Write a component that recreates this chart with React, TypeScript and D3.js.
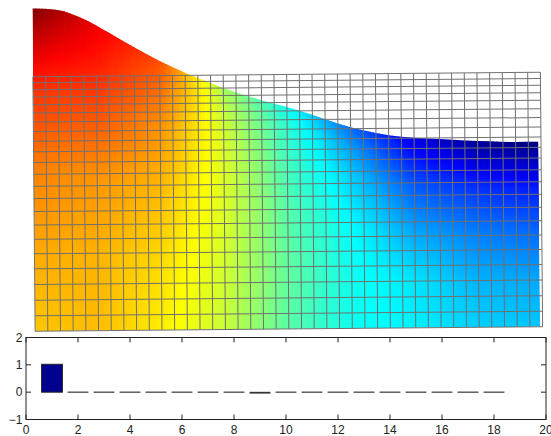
import React from 'react';
import * as d3 from 'd3';

// mesh: 40 columns; row lines as elevation (0 = front edge, 10 = back edge)
const meshCols = 40;
const rowLines = [10, 9.76, 9.49, 9.2, 8.9, 8.57, 8.22, 7.85, 7.46, 7.05, 6.63, 6.17, 5.7, 5.21, 4.7, 4.17, 3.61, 3.04, 2.45, 1.84, 1.22, 0.61, 0];

// upper edge of the shaded surface, sampled every 2 columns
const profileU = [0, 2, 4, 6, 8, 10, 12, 14, 16, 18, 20, 22, 24, 26, 28, 30, 32, 34, 36, 38, 40];
const profileElev = [12.69, 12.61, 12.26, 11.71, 11.12, 10.57, 10.1, 9.69, 9.31, 9.0, 8.72, 8.41, 8.06, 7.78, 7.58, 7.47, 7.41, 7.35, 7.31, 7.27, 7.27];

// colour index (0..1 of the jet map), per column, from the upper edge (t=0) down to the front (t=1)
const shadeU = [0, 5, 10, 15, 20, 25, 30, 35, 40];
const shadeT = [0, 0.1, 0.25, 0.5, 0.75, 1];
const shadeCols = [
  [1.0, 0.93, 0.83, 0.75, 0.71, 0.68],
  [0.89, 0.86, 0.81, 0.73, 0.7, 0.69],
  [0.8, 0.77, 0.73, 0.69, 0.66, 0.64],
  [0.54, 0.57, 0.59, 0.59, 0.58, 0.57],
  [0.39, 0.42, 0.44, 0.46, 0.47, 0.46],
  [0.23, 0.28, 0.33, 0.375, 0.39, 0.39],
  [0.1, 0.14, 0.21, 0.29, 0.35, 0.36],
  [0.02, 0.08, 0.17, 0.25, 0.3, 0.33],
  [0.0, 0.06, 0.15, 0.23, 0.29, 0.32],
];

// bar plot below
const barX = [1, 2, 3, 4, 5, 6, 7, 8, 9, 10, 11, 12, 13, 14, 15, 16, 17, 18];
const barY = [1.02, 0, 0, 0, 0, 0, 0, 0, -0.02, 0, 0, 0, 0, 0, 0, 0, 0, 0];
const xTicks = [0, 2, 4, 6, 8, 10, 12, 14, 16, 18, 20];
const yTicks = [-1, 0, 1, 2];

const jet = d3.scaleLinear<string>()
  .domain([0, 0.125, 0.375, 0.625, 0.875, 1])
  .range(['#000080', '#0000ff', '#00ffff', '#ffff00', '#ff0000', '#800000'])
  .interpolate(d3.interpolateRgb)
  .clamp(true);

const topAt = d3.scaleLinear().domain(profileU).range(profileElev);
const colScales = shadeCols.map(c => d3.scaleLinear().domain(shadeT).range(c));
const shade = (u: number, t: number) =>
  d3.scaleLinear().domain(shadeU).range(colScales.map(s => s(t)))(u);

export default function App() {
  const mx = d3.scaleLinear().domain([0, meshCols]).range([34, 541.5]);
  const my = d3.scaleLinear().domain([0, 10]).range([329, 74.5]);

  const bx = d3.scaleLinear().domain([0, 20]).range([26, 546]);
  const by = d3.scaleLinear().domain([-1, 2]).range([419.5, 337.5]);

  const du = 0.25;
  const uEnd = 39.8;

  // smooth outline of the surface, used as a clip
  const edge = d3.line<number>()
    .x((_, i) => mx(Math.min(profileU[i], uEnd)))
    .y(d => my(d))
    .curve(d3.curveMonotoneX);
  const outline = edge(profileElev) + `L${mx(uEnd)},${my(0)}L${mx(0)},${my(0)}Z`;

  const strips = d3.range(0, uEnd, du).map((u0, i) => {
    const u1 = Math.min(u0 + du + 0.06, uEnd);
    const uc = (u0 + u0 + du) / 2;
    const stops = d3.range(0, 1.0001, 0.05).map(t => ({ t, c: jet(shade(uc, t)) }));
    return { id: `s${i}`, x: mx(u0), w: mx(u1) - mx(u0), y1: my(topAt(uc)), y2: my(0), stops };
  });

  const font = '"Liberation Sans", Arial, sans-serif';

  return (
    <svg width={551} height={436} style={{ position: 'absolute', left: 0, top: 0 }}>
      <defs>
        <clipPath id="surf"><path d={outline} /></clipPath>
        {strips.map(s => (
          <linearGradient key={s.id} id={s.id} gradientUnits="userSpaceOnUse" x1={0} x2={0} y1={s.y1} y2={s.y2}>
            {s.stops.map(st => <stop key={st.t} offset={st.t} stopColor={st.c} />)}
          </linearGradient>
        ))}
      </defs>
      <g transform="rotate(-0.5, 288, 202)">
        <g clipPath="url(#surf)">
          {strips.map(s => <rect key={s.id} x={s.x} y={my(14)} width={s.w} height={my(0) - my(14)} fill={`url(#${s.id})`} />)}
        </g>
        <g stroke="#707070" strokeWidth={1} fill="none">
          {d3.range(0, meshCols + 1).map(c => (
            <line key={'c' + c} x1={mx(c)} x2={mx(c)} y1={my(10)} y2={my(0)} />
          ))}
          {rowLines.map(r => (
            <line key={'r' + r} x1={mx(0)} x2={mx(meshCols)} y1={my(r)} y2={my(r)} />
          ))}
        </g>
      </g>

      <rect x={bx(0)} y={by(2)} width={bx(20) - bx(0)} height={by(-1) - by(2)} fill="#fff" />
      {barX.map((x, i) => {
        const v = barY[i];
        if (Math.abs(v) < 0.05) {
          return (
            <line key={x} x1={bx(x - 0.4)} x2={bx(x + 0.4)} y1={by(v)} y2={by(v)}
              stroke="#333" strokeWidth={v === 0 ? 1.2 : 1.8} />
          );
        }
        const y0 = by(Math.max(0, v));
        const y1 = by(Math.min(0, v));
        return (
          <rect key={x} x={bx(x - 0.4)} y={y0} width={bx(x + 0.4) - bx(x - 0.4)} height={y1 - y0}
            fill="#00008f" stroke="#222" strokeWidth={1} />
        );
      })}
      <g stroke="#222" strokeWidth={1} fill="none">
        <rect x={bx(0)} y={by(2)} width={bx(20) - bx(0)} height={by(-1) - by(2)} />
        {xTicks.map(t => (
          <g key={'xt' + t}>
            <line x1={bx(t)} x2={bx(t)} y1={by(-1)} y2={by(-1) - 5} />
            <line x1={bx(t)} x2={bx(t)} y1={by(2)} y2={by(2) + 5} />
          </g>
        ))}
        {yTicks.map(t => (
          <g key={'yt' + t}>
            <line x1={bx(0)} x2={bx(0) + 5} y1={by(t)} y2={by(t)} />
            <line x1={bx(20)} x2={bx(20) - 5} y1={by(t)} y2={by(t)} />
          </g>
        ))}
      </g>
      <g fontFamily={font} fontSize={12} fill="#222">
        {xTicks.map(t => (
          <text key={'xl' + t} x={bx(t)} y={434} textAnchor="middle">{t}</text>
        ))}
        {yTicks.map(t => (
          <text key={'yl' + t} x={22.5} y={by(t) + 4.3} textAnchor="end">{t < 0 ? '\u2212' + Math.abs(t) : t}</text>
        ))}
      </g>
    </svg>
  );
}
